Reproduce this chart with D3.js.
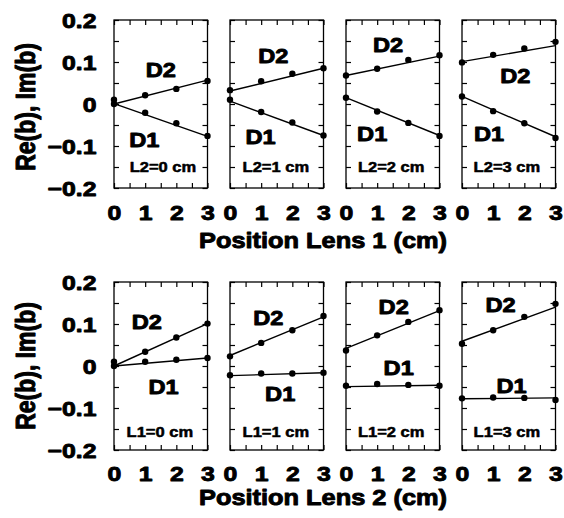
<!DOCTYPE html>
<html><head><meta charset="utf-8">
<script src="https://cdn.jsdelivr.net/npm/d3@7"></script>
<style>
body{margin:0;background:#fff}
svg{display:block}
text{font-family:"Liberation Sans",Arial,Helvetica,sans-serif;font-weight:bold;fill:#000;stroke:#000;stroke-width:0.9px;stroke-linejoin:round}
</style></head>
<body><svg id="c" width="564" height="518"></svg>
<script>
// ---------- data ----------
const positions = [0, 1, 2, 3];
const fitEnds = [0, 3];
const yTickLabels = [-0.2, -0.1, 0, 0.1, 0.2];
const xTickLabels = [0, 1, 2, 3];
const yTitle = "Re(b), Im(b)";
const xTitles = ["Position Lens 1 (cm)", "Position Lens 2 (cm)"];
const seriesNames = ["D1", "D2"];
const topLabels = ["L2=0 cm", "L2=1 cm", "L2=2 cm", "L2=3 cm"];
const bottomLabels = ["L1=0 cm", "L1=1 cm", "L1=2 cm", "L1=3 cm"];

const topD2 = [[0.010, 0.021, 0.036, 0.055], [0.033, 0.054, 0.072, 0.085], [0.068, 0.084, 0.105, 0.116], [0.099, 0.117, 0.132, 0.148]];
const topD1 = [[0.000, -0.021, -0.046, -0.076], [0.010, -0.019, -0.044, -0.075], [0.015, -0.018, -0.045, -0.076], [0.018, -0.017, -0.046, -0.081]];
const topD2Fit = [[0.000, 0.057], [0.031, 0.085], [0.068, 0.114], [0.101, 0.139]];
const topD1Fit = [[0.001, -0.077], [0.007, -0.075], [0.015, -0.075], [0.018, -0.078]];

const bottomD2 = [[0.010, 0.034, 0.068, 0.101], [0.023, 0.055, 0.085, 0.119], [0.037, 0.073, 0.105, 0.133], [0.053, 0.085, 0.117, 0.148]];
const bottomD1 = [[0.000, 0.010, 0.015, 0.019], [-0.022, -0.018, -0.018, -0.016], [-0.047, -0.043, -0.045, -0.047], [-0.077, -0.075, -0.076, -0.081]];
const bottomD2Fit = [[0.000, 0.101], [0.025, 0.117], [0.042, 0.132], [0.059, 0.140]];
const bottomD1Fit = [[0.000, 0.019], [-0.023, -0.016], [-0.049, -0.046], [-0.078, -0.076]];

// ---------- layout (annotation anchors in data coords) ----------
const topAnn = [
  {d2: [1.50, 0.065], d1: [0.97, -0.102], lab: [1.57, -0.161]},
  {d2: [1.39, 0.097], d1: [0.98, -0.096], lab: [1.47, -0.161]},
  {d2: [1.35, 0.125], d1: [0.84, -0.088], lab: [1.45, -0.161]},
  {d2: [1.71, 0.051], d1: [0.87, -0.088], lab: [1.44, -0.161]}
];
const bottomAnn = [
  {d2: [1.05, 0.089], d1: [1.59, -0.066], lab: [1.47, -0.169]},
  {d2: [1.23, 0.097], d1: [1.61, -0.084], lab: [1.47, -0.169]},
  {d2: [1.53, 0.125], d1: [1.69, -0.021], lab: [1.45, -0.169]},
  {d2: [1.24, 0.129], d1: [1.59, -0.064], lab: [1.44, -0.169]}
];

const SX = 1.18;
const panelLeft = [114, 230, 346, 462];
const panelW = 93.5;
const rows = [
  {top: 20, bottom: 188, d1: topD1, d2: topD2, f1: topD1Fit, f2: topD2Fit, labels: topLabels, ann: topAnn, title: xTitles[0], titleY: 248, tickY: 220, yTitleC: 107},
  {top: 282, bottom: 450, d1: bottomD1, d2: bottomD2, f1: bottomD1Fit, f2: bottomD2Fit, labels: bottomLabels, ann: bottomAnn, title: xTitles[1], titleY: 505, tickY: 481, yTitleC: 366}
];

const svg = d3.select("#c");
svg.append("rect").attr("width", 564).attr("height", 518).attr("fill", "#fff");

function stext(g, x, y, str, size, anchor) {
  return g.append("text")
    .attr("transform", `translate(${x},${y}) scale(${SX},1)`)
    .attr("text-anchor", anchor)
    .style("font-size", size + "px")
    .text(str);
}

const minorX = d3.range(0, 7).map(i => i * 0.5);
const minorY = d3.range(-4, 5).map(i => i * 0.05);
const fmt = v => Math.abs(v) < 1e-9 ? "0" : d3.format(".1f")(v);

rows.forEach(row => {
  const y = d3.scaleLinear().domain([-0.2, 0.2]).range([row.bottom, row.top]);
  panelLeft.forEach((px, i) => {
    const x = d3.scaleLinear().domain([0, 3]).range([px, px + panelW]);
    const g = svg.append("g");

    // inward ticks on all four sides
    const axes = [
      [d3.axisLeft(y).tickValues(minorY), `translate(${px},0)`],
      [d3.axisRight(y).tickValues(minorY), `translate(${px + panelW},0)`],
      [d3.axisTop(x).tickValues(minorX), `translate(0,${row.top})`],
      [d3.axisBottom(x).tickValues(minorX), `translate(0,${row.bottom})`]
    ];
    axes.forEach(([ax, tr]) => {
      const a = g.append("g").attr("transform", tr)
        .call(ax.tickSize(-5).tickFormat(""));
      a.select(".domain").remove();
      a.selectAll(".tick line").attr("stroke", "#000").attr("stroke-width", 1.2);
      a.selectAll(".tick text").remove();
    });

    // x tick labels
    const xb = g.append("g").attr("transform", `translate(0,${row.bottom})`)
      .call(d3.axisBottom(x).tickValues(xTickLabels).tickSize(0).tickFormat(d3.format("d")));
    xb.select(".domain").remove();
    xb.selectAll(".tick text")
      .attr("y", null).attr("dy", null)
      .attr("transform", `translate(0,${row.tickY - row.bottom}) scale(${SX},1)`)
      .style("font-size", "21px").attr("fill", "#000");

    // y tick labels on first panel
    if (i === 0) {
      const yl = g.append("g").attr("transform", `translate(${px},0)`)
        .call(d3.axisLeft(y).tickValues(yTickLabels).tickSize(0).tickFormat(fmt));
      yl.select(".domain").remove();
      yl.selectAll(".tick text")
        .attr("x", null).attr("dy", null)
        .attr("transform", `translate(-17.5,7.5) scale(${SX},1)`)
        .style("font-size", "21px").attr("fill", "#000");
    }

    // frame
    g.append("rect").attr("x", px).attr("y", row.top).attr("width", panelW)
      .attr("height", row.bottom - row.top)
      .attr("fill", "none").attr("stroke", "#000").attr("stroke-width", 1.3);

    // fit lines and points
    const line = d3.line().x(d => x(d[0])).y(d => y(d[1]));
    [row.f1[i], row.f2[i]].forEach(f => {
      g.append("path").datum(fitEnds.map((p, k) => [p, f[k]]))
        .attr("d", line).attr("fill", "none").attr("stroke", "#000").attr("stroke-width", 1.4);
    });
    [row.d1[i], row.d2[i]].forEach(s => {
      g.selectAll(null).data(positions.map((p, k) => [p, s[k]])).enter()
        .append("circle").attr("cx", d => x(d[0])).attr("cy", d => y(d[1]))
        .attr("r", 3.2).attr("fill", "#000");
    });

    // annotations
    const an = row.ann[i];
    stext(g, x(an.d2[0]), y(an.d2[1]), seriesNames[1], 20, "middle");
    stext(g, x(an.d1[0]), y(an.d1[1]), seriesNames[0], 20, "middle");
    stext(g, x(an.lab[0]), y(an.lab[1]), row.labels[i], 14, "middle").style("stroke-width", "0.5px");
  });

  // y title
  svg.append("text")
    .attr("transform", `translate(35,${row.yTitleC}) scale(${SX},1) rotate(-90)`)
    .attr("text-anchor", "middle").style("font-size", "23px").text(yTitle);
  // x title
  stext(svg, 323, row.titleY, row.title, 21.5, "middle");
});
</script></body></html>
